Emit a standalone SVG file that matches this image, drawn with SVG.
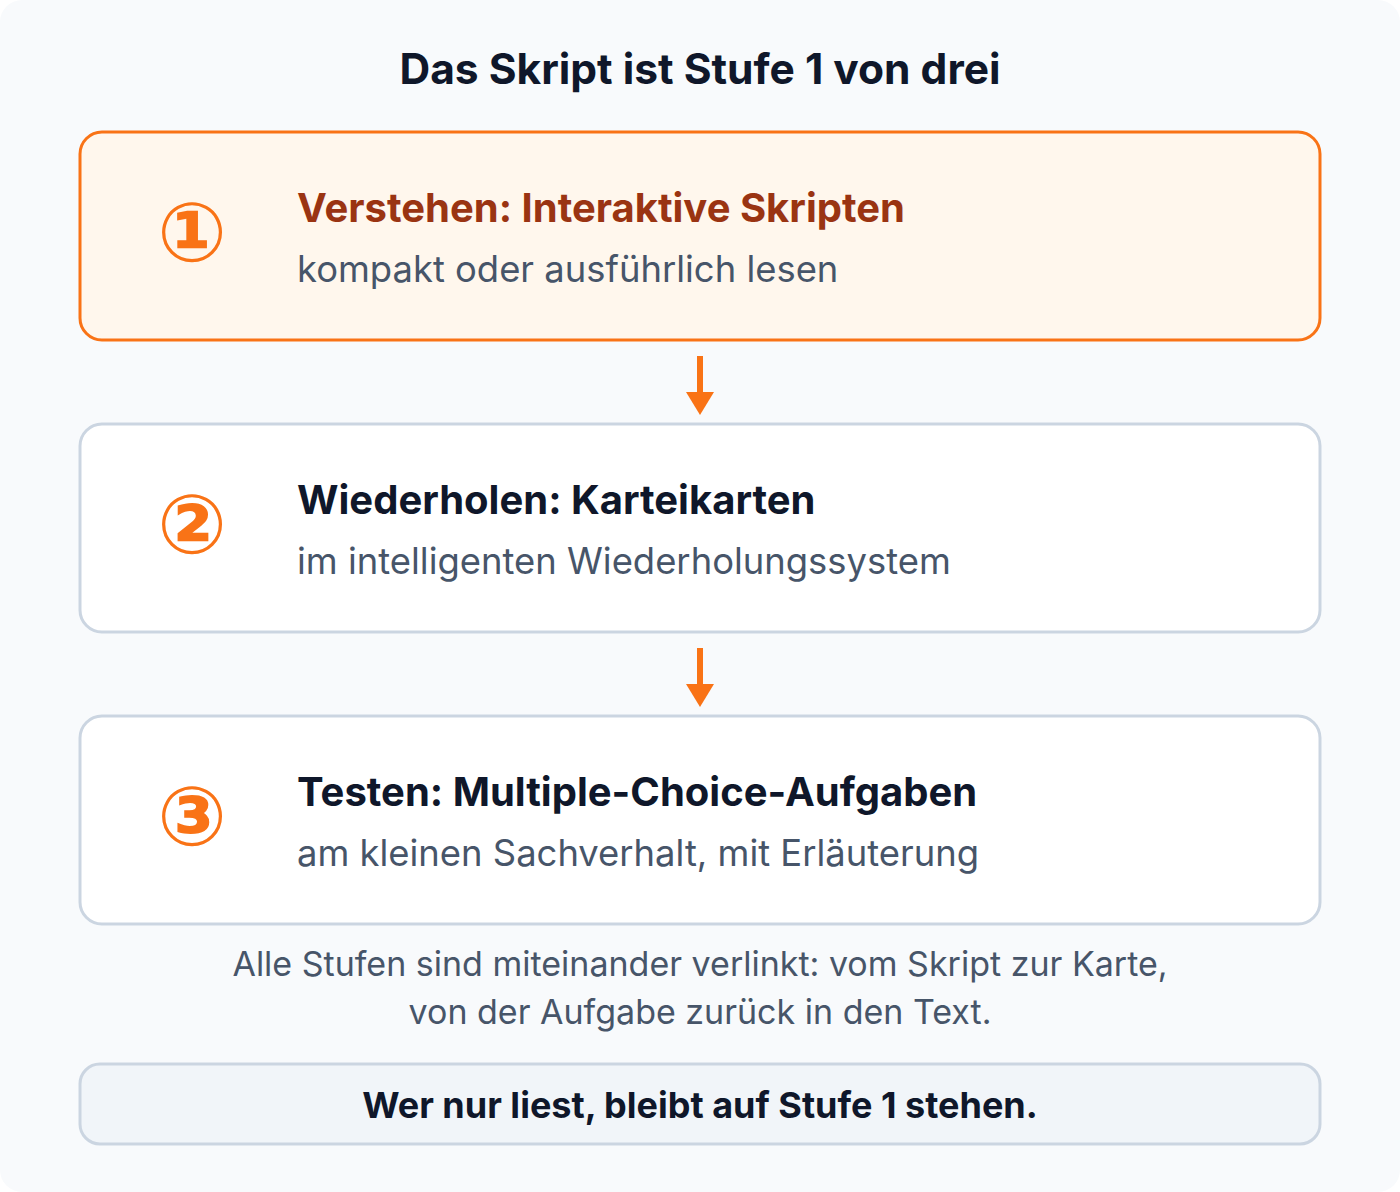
<svg xmlns="http://www.w3.org/2000/svg" width="1400" height="1192" viewBox="0 0 1400 1192">
<style>
.t{font-family:Inter,"Noto Sans","DejaVu Sans",sans-serif}
.h{font-size:40px;font-weight:700;fill:#0f172a}
.s{font-size:36.4px;fill:#475569}
.n{font-family:"DejaVu Sans",sans-serif;font-size:82px;font-weight:700;fill:#f97316;text-anchor:middle}
.box{fill:#ffffff;stroke:#cbd5e1;stroke-width:3}
</style>
<rect x="0" y="0" width="1400" height="1192" rx="22" fill="#f8fafc"/>
<text class="t" x="700" y="84" text-anchor="middle" font-size="42.5" font-weight="700" fill="#0f172a">Das Skript ist Stufe 1 von drei</text>
<g id="stage1">
<rect x="80" y="132" width="1240" height="208" rx="22" fill="#fff7ed" stroke="#f97316" stroke-width="3"/>
<text class="n" x="192" y="261">①</text>
<text class="t h" x="297" y="222" style="fill:#9a3412">Verstehen: Interaktive Skripten</text>
<text class="t s" x="297" y="282">kompakt oder ausführlich lesen</text>
</g>
<g id="stage2">
<rect class="box" x="80" y="424" width="1240" height="208" rx="22"/>
<text class="n" x="192" y="553">②</text>
<text class="t h" x="297" y="514">Wiederholen: Karteikarten</text>
<text class="t s" x="297" y="574">im intelligenten Wiederholungssystem</text>
</g>
<g id="stage3">
<rect class="box" x="80" y="716" width="1240" height="208" rx="22"/>
<text class="n" x="192" y="845">③</text>
<text class="t h" x="297" y="806">Testen: Multiple-Choice-Aufgaben</text>
<text class="t s" x="297" y="866">am kleinen Sachverhalt, mit Erläuterung</text>
</g>
<g id="connectors" fill="#f97316">
<rect x="697" y="356" width="6" height="38"/>
<path d="M686,392 L714,392 L700,415 Z"/>
<rect x="697" y="648" width="6" height="38"/>
<path d="M686,684 L714,684 L700,707 Z"/>
</g>
<g id="note">
<text class="t" x="700" y="976" text-anchor="middle" font-size="34" fill="#475569">Alle Stufen sind miteinander verlinkt: vom Skript zur Karte,</text>
<text class="t" x="700" y="1024" text-anchor="middle" font-size="34" fill="#475569">von der Aufgabe zurück in den Text.</text>
</g>
<g id="summary">
<rect x="80" y="1064" width="1240" height="80" rx="20" fill="#f1f5f9" stroke="#cbd5e1" stroke-width="3"/>
<text class="t" x="700" y="1118" text-anchor="middle" font-size="36" font-weight="700" fill="#0f172a">Wer nur liest, bleibt auf Stufe 1 stehen.</text>
</g>
</svg>
